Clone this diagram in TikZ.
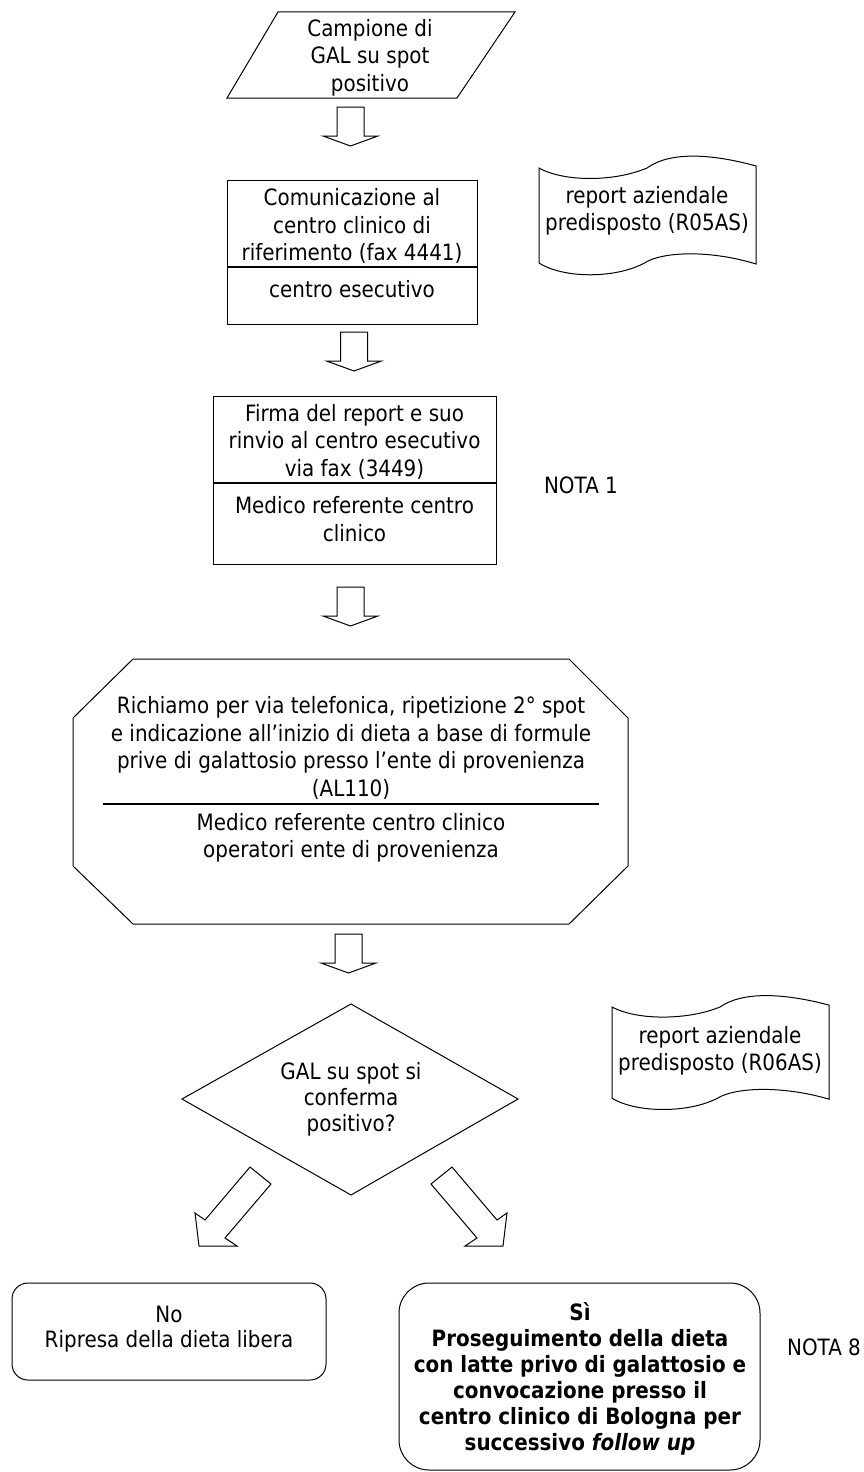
\documentclass[tikz,border=0pt]{standalone}
\usepackage{fontspec}
\setmainfont{DejaVu Sans}[FakeStretch=0.885]
\begin{document}
\begin{tikzpicture}[x=1pt,y=-1pt,line join=miter,
  every node/.style={inner sep=0pt,outer sep=0pt},
  lbl/.style={align=center,font=\fontsize{22.5}{27.5}\selectfont},
  shp/.style={draw=black,line width=1pt},
  sepline/.style={draw=black,line width=1.7pt},
  blockdown/.pic={\draw[shp] (-13.5,0) -- (13.5,0) -- (13.5,29) -- (27.5,29) -- (0,39) -- (-27.5,29) -- (-13.5,29) -- cycle;},
  docshape/.pic={\draw[shp] (0,0) .. controls (25,14) and (75,14) .. (108,0)
      .. controls (130,-16) and (170,-15) .. (217,-2) -- (217,96)
      .. controls (175,83) and (130,83) .. (109,93)
      .. controls (80,111) and (25,111) .. (0,95) -- cycle;}
]
\fill[white] (0,0) rectangle (864,1472);
\useasboundingbox (0,0) rectangle (864,1472);

% start parallelogram
\draw[shp] (278,12) -- (515,12) -- (457,98) -- (227,98) -- cycle;
\node[lbl] (start) at (370,57.5) {Campione di\\GAL su spot\\positivo};

\pic (arA) at (350.5,107) {blockdown};

% box 1
\draw[shp] (227,180) rectangle (477,324);
\draw[sepline] (227,267) -- (477,267);
\node[lbl] (b1a) at (352,226) {Comunicazione al\\centro clinico di\\riferimento (fax 4441)};
\node[lbl] (b1b) at (352,289) {centro esecutivo};

% document 1
\pic (docA) at (539,168) {docshape};
\node[lbl] (d1) at (647,211) {report aziendale\\predisposto (R05AS)};

\pic (arB) at (354,332) {blockdown};

% box 2
\draw[shp] (213,396) rectangle (496,564);
\draw[sepline] (213,483) -- (496,483);
\node[lbl] (b2a) at (354.5,441.5) {Firma del report e suo\\rinvio al centro esecutivo\\via fax (3449)};
\node[lbl] (b2b) at (354.5,519) {Medico referente centro\\clinico};
\node[lbl] (n1) at (581,485) {NOTA 1};

\pic (arC) at (350.5,587) {blockdown};

% octagon
\draw[shp] (133,659) -- (569,659) -- (628,718) -- (628,866) -- (569,924) -- (133,924) -- (73,866) -- (73,718) -- cycle;
\draw[sepline] (103,804) -- (599,804);
\node[lbl] (oa) at (351,748) {Richiamo per via telefonica, ripetizione 2° spot\\e indicazione all’inizio di dieta a base di formule\\prive di galattosio presso l’ente di provenienza\\(AL110)};
\node[lbl] (ob) at (351,838) {Medico referente centro clinico\\operatori ente di provenienza};

\pic (arD) at (348.5,934) {blockdown};

% decision
\draw[shp] (182,1099) -- (351,1004) -- (518,1099) -- (351,1195) -- cycle;
\node[lbl,font=\fontsize{22.5}{26}\selectfont] (dec) at (351,1099) {GAL su spot si\\conferma\\positivo?};

% document 2
\pic[yscale=0.96] (docB) at (612,1007) {docshape};
\node[lbl] (d2) at (720,1051) {report aziendale\\predisposto (R06AS)};

% diagonal block arrows
\draw[shp] (250,1167) -- (271,1184) -- (225,1238) -- (237,1246) -- (199,1246) -- (195,1213) -- (205,1220) -- cycle;
\draw[shp] (452,1167) -- (431,1184) -- (477,1238) -- (465,1246) -- (503,1246) -- (507,1213) -- (497,1220) -- cycle;

% outcome boxes
\draw[shp,rounded corners=16pt] (12,1283) rectangle (326,1380);
\node[lbl,font=\fontsize{22.5}{24.5}\selectfont] (no) at (169,1329) {No\\Ripresa della dieta libera};

\draw[shp,rounded corners=30pt] (399,1283) rectangle (760,1470);
\node[lbl,font=\bfseries\fontsize{22.5}{26}\selectfont] (yes) at (580,1379) {Sì\\Proseguimento della dieta\\con latte privo di galattosio e\\convocazione presso il\\centro clinico di Bologna per\\successivo \textit{follow up}};
\node[lbl] (n8) at (824,1347) {NOTA 8};
\end{tikzpicture}
\end{document}
